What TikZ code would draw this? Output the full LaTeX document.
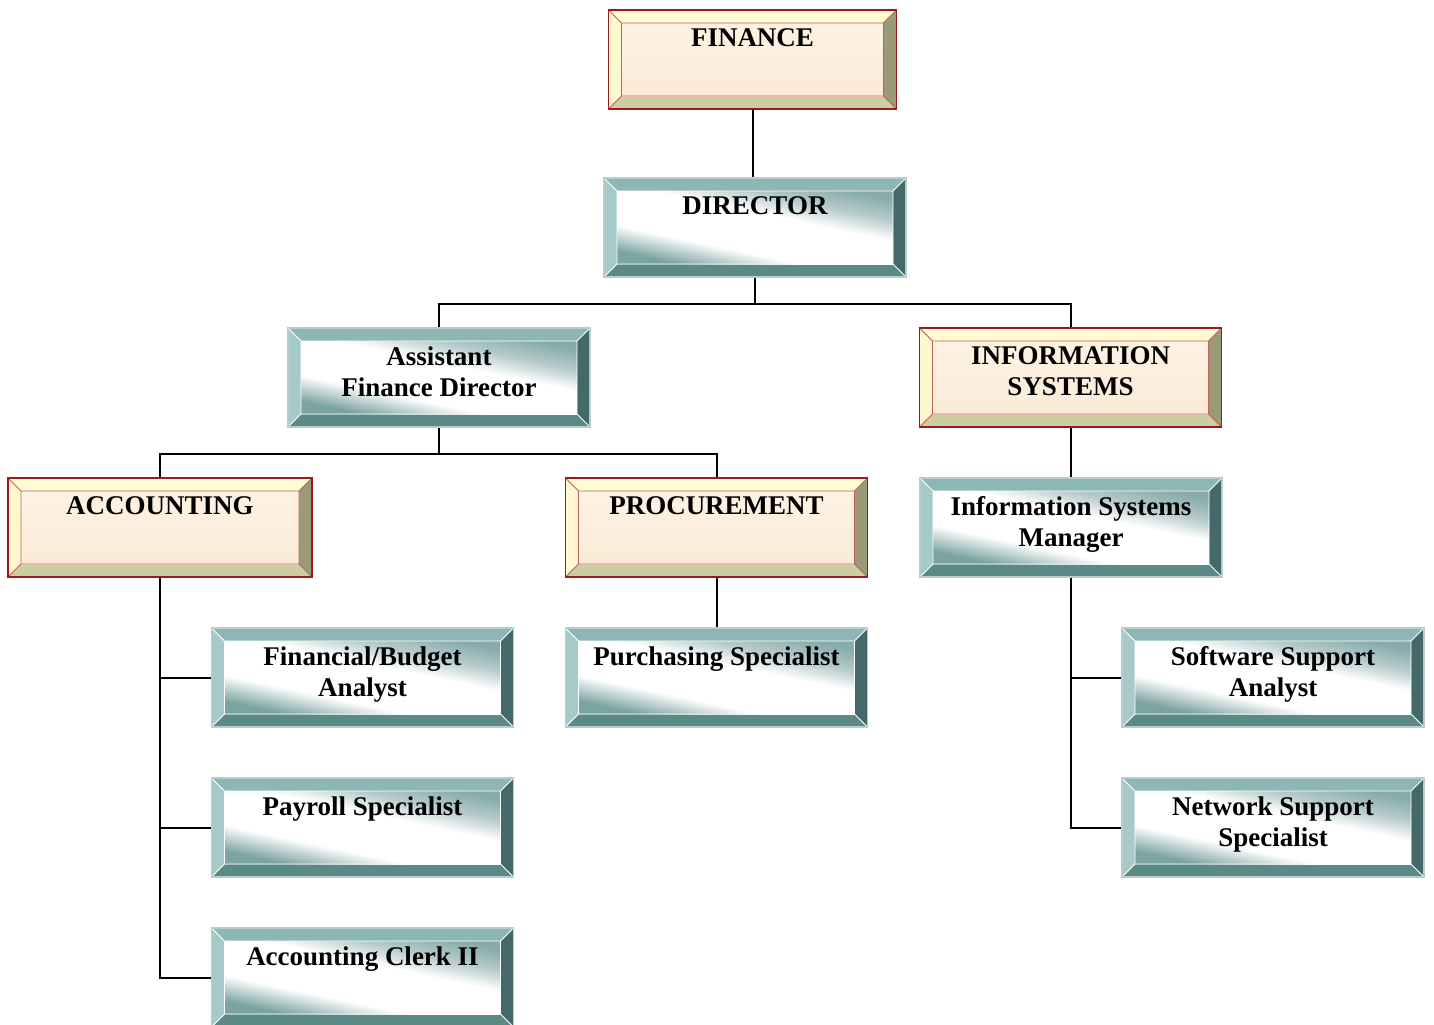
\documentclass[tikz,border=0pt]{standalone}
\usepackage{fontspec}
\setmainfont{Liberation Serif}
\definecolor{tantop}{HTML}{FFFBD2}
\definecolor{tanleft}{HTML}{FFF8CE}
\definecolor{tanbottom}{HTML}{CDCDA2}
\definecolor{tanright}{HTML}{9A9A78}
\definecolor{tanline}{HTML}{9B1B1B}
\definecolor{tanedge}{HTML}{C0645A}
\definecolor{tanpale}{HTML}{FDF2E3}
\definecolor{tanwarm}{HTML}{FBEBD7}
\definecolor{tealtop}{HTML}{8DB7B5}
\definecolor{tealleft}{HTML}{A6CACA}
\definecolor{tealbottom}{HTML}{5B8985}
\definecolor{tealright}{HTML}{45696A}
\definecolor{tealline}{HTML}{B8CCCC}
\definecolor{tealdark}{HTML}{7AA3A1}
\definecolor{teallight}{HTML}{86ABAA}
\pgfdeclareverticalshading{tealsweep}{100bp}{color(0bp)=(tealdark); color(26bp)=(tealdark);
  color(38bp)=(white); color(57bp)=(white); color(66bp)=(tealline); color(76bp)=(teallight); color(100bp)=(teallight)}
\newcommand\bevelfaces[6]{%
  \coordinate (nw) at (path picture bounding box.north west);
  \coordinate (ne) at (path picture bounding box.north east);
  \coordinate (sw) at (path picture bounding box.south west);
  \coordinate (se) at (path picture bounding box.south east);
  \coordinate (inw) at ([shift={(6.5pt,-6.5pt)}]nw);
  \coordinate (ine) at ([shift={(-6.5pt,-6.5pt)}]ne);
  \coordinate (isw) at ([shift={(6.5pt,6.5pt)}]sw);
  \coordinate (ise) at ([shift={(-6.5pt,6.5pt)}]se);
  \fill[#1] (nw) -- (ne) -- (ine) -- (inw) -- cycle;
  \fill[#2] (nw) -- (inw) -- (isw) -- (sw) -- cycle;
  \fill[#3] (sw) -- (isw) -- (ise) -- (se) -- cycle;
  \fill[#4] (ne) -- (se) -- (ise) -- (ine) -- cycle;
  \path[#5] (inw) rectangle (ise);
  \draw[#6, line width=0.4pt] (inw) rectangle (ise)
    (nw) -- (inw) (ne) -- (ine) (sw) -- (isw) (se) -- (ise);}
\tikzset{
  orgbox/.style={minimum width=151pt, minimum height=49.5pt, inner sep=0pt, line width=0.6pt},
  boxtext/.style={anchor=north, yshift=-9.5pt, align=center, inner sep=0pt,
    font=\fontsize{13.5}{15.5}\selectfont\bfseries},
  tanface/.style={top color=tanpale, bottom color=tanwarm},
  tealface/.style={shading=tealsweep, shading angle=-12},
  tanbox/.style={orgbox, draw=tanline,
    path picture={\bevelfaces{tantop}{tanleft}{tanbottom}{tanright}{tanface}{tanedge}}},
  tealbox/.style={orgbox, draw=tealline,
    path picture={\bevelfaces{tealtop}{tealleft}{tealbottom}{tealright}{tealface}{white}}},
  conn/.style={line width=1pt}
}
\begin{document}
\begin{tikzpicture}[x=0.5pt,y=-0.5pt]
\useasboundingbox (0,0) rectangle (1434,1024);
\path (752.5,59.5) node[tanbox, minimum width=144pt, label={[boxtext]north:FINANCE}] (finance) {}
		(755,227.5) node[tealbox, label={[boxtext]north:DIRECTOR}] (director) {}
		(439,377.5) node[tealbox, label={[boxtext]north:Assistant\\Finance Director}] (asst) {}
		(1070.5,377.5) node[tanbox, label={[boxtext]north:INFORMATION\\SYSTEMS}] (infosys) {}
		(160,527.5) node[tanbox, minimum width=152pt, label={[boxtext]north:ACCOUNTING}] (acct) {}
		(716.5,527.5) node[tanbox, label={[boxtext]north:PROCUREMENT}] (procure) {}
		(1071,527.5) node[tealbox, label={[boxtext]north:Information Systems\\Manager}] (ismgr) {}
		(362.5,677.5) node[tealbox, label={[boxtext]north:Financial/Budget\\Analyst}] (budget) {}
		(716.5,677.5) node[tealbox, label={[boxtext]north:Purchasing Specialist}] (purchase) {}
		(1273,677.5) node[tealbox, label={[boxtext]north:Software Support\\Analyst}] (software) {}
		(362.5,827.5) node[tealbox, label={[boxtext]north:Payroll Specialist}] (payroll) {}
		(1273,827.5) node[tealbox, label={[boxtext]north:Network Support\\Specialist}] (network) {}
		(362.5,977.5) node[tealbox, label={[boxtext]north:Accounting Clerk II}] (clerk) {}
		;
\draw[conn] (finance.south) -- (finance.south |- director.north);
\draw[conn] (director.south) -- ++(0,26);
\draw[conn] (asst.north) |- ([yshift=-13pt]director.south) -| (infosys.north);
\draw[conn] (asst.south) -- ++(0,26);
\draw[conn] (acct.north) |- ([yshift=-13pt]asst.south) -| (procure.north);
\draw[conn] (infosys.south) -- (infosys.south |- ismgr.north);
\draw[conn] (procure.south) -- (purchase.north);
\draw[conn] (acct.south) |- (clerk.west);
\draw[conn] (acct.south |- budget.west) -- (budget.west);
\draw[conn] (acct.south |- payroll.west) -- (payroll.west);
\draw[conn] (ismgr.south) |- (network.west);
\draw[conn] (ismgr.south |- software.west) -- (software.west);
\end{tikzpicture}
\end{document}
